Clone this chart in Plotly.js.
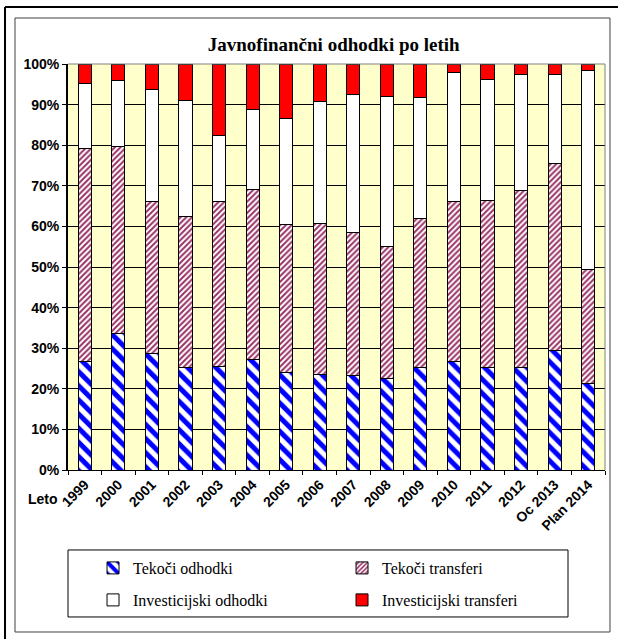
<!DOCTYPE html>
<html>
<head>
<meta charset="utf-8">
<script src="https://cdn.plot.ly/plotly-3.0.1.min.js"></script>
<style>
  html, body { margin: 0; padding: 0; background: #ffffff; }
  #chart { width: 618px; height: 639px; }
</style>
</head>
<body>
<div id="chart"></div>
<script>
// ---- data (shares in %) ----
const categories = ['1999','2000','2001','2002','2003','2004','2005','2006','2007','2008','2009','2010','2011','2012','Oc 2013','Plan 2014'];
const tekociOdhodki      = [26.7, 33.7, 28.7, 25.2, 25.6, 27.1, 24.0, 23.6, 23.2, 22.6, 25.2, 26.7, 25.2, 25.2, 29.4, 21.3];
const tekociTransferi    = [52.5, 46.1, 37.4, 37.2, 40.5, 42.0, 36.5, 37.2, 35.3, 32.4, 36.8, 39.4, 41.3, 43.6, 46.0, 28.0];
const investicijskiOdh   = [16.0, 16.2, 27.5, 28.6, 16.4, 19.6, 26.1, 29.9, 34.1, 37.1, 29.8, 31.9, 29.6, 28.5, 21.9, 49.1];
const investicijskiTr    = [ 4.8,  4.0,  6.4,  9.0, 17.5, 11.3, 13.4,  9.3,  7.4,  7.9,  8.2,  2.0,  3.9,  2.7,  2.7,  1.6];
const seriesNames = ['Tekoči odhodki', 'Tekoči transferi', 'Investicijski odhodki', 'Investicijski transferi'];
const yTickVals = [0,10,20,30,40,50,60,70,80,90,100];
const yTickText = ['0%','10%','20%','30%','40%','50%','60%','70%','80%','90%','100%'];

const line = { color: '#000000', width: 1 };

const traces = [
  { name: seriesNames[0], y: tekociOdhodki, legend: 'legend',
    marker: { color: '#FFFFFF', line: line,
      pattern: { shape: '\\', fgcolor: '#0000FF', bgcolor: '#FFFFFF', size: 10, solidity: 0.5, fillmode: 'replace' } } },
  { name: seriesNames[1], y: tekociTransferi, legend: 'legend',
    marker: { color: '#FFFFFF', line: line,
      pattern: { shape: '/', fgcolor: '#993366', bgcolor: '#FFFFFF', size: 4, solidity: 0.5, fillmode: 'replace' } } },
  { name: seriesNames[2], y: investicijskiOdh, legend: 'legend2',
    marker: { color: '#FFFFFF', line: line } },
  { name: seriesNames[3], y: investicijskiTr, legend: 'legend2',
    marker: { color: '#FF0000', line: line } }
].map(t => Object.assign({ type: 'bar', x: categories, hoverinfo: 'skip' }, t));

const sans = 'Liberation Sans, Arial, sans-serif';
const serif = 'Liberation Serif, Times New Roman, serif';

const legendCommon = {
  orientation: 'h', traceorder: 'normal',
  xanchor: 'left', yanchor: 'middle',
  entrywidth: 204,
  font: { family: serif, size: 16, color: '#000000' },
  bgcolor: 'rgba(0,0,0,0)', borderwidth: 0
};

// plot area: x 68..605, y 64..470 (px)
const layout = {
  width: 618, height: 639,
  margin: { l: 68, r: 13, t: 64, b: 169 },
  paper_bgcolor: '#FFFFFF',
  plot_bgcolor: '#FFFFCC',
  barmode: 'stack',
  bargap: 0.61,
  showlegend: true,
  title: { text: 'Javnofinančni odhodki po letih', x: 0.54, xanchor: 'center', y: 0.931, yanchor: 'middle',
           font: { family: serif, size: 19, color: '#000000', weight: 'bold' } },
  xaxis: {
    type: 'category', tickangle: -45,
    tickfont: { family: sans, size: 14, color: '#000000', weight: 'bold' },
    showline: true, linecolor: '#000000', linewidth: 1,
    ticks: 'outside', tickson: 'boundaries', ticklen: 4, tickcolor: '#000000',
    showgrid: false, zeroline: false, fixedrange: true
  },
  yaxis: {
    range: [0, 100], tickvals: yTickVals, ticktext: yTickText,
    tickfont: { family: sans, size: 14, color: '#000000', weight: 'bold' },
    showline: true, linecolor: '#000000', linewidth: 2,
    ticks: 'outside', ticklen: 4, tickcolor: '#000000',
    showgrid: true, gridcolor: '#000000', gridwidth: 1, zeroline: false, fixedrange: true
  },
  legend: Object.assign({ x: 0.0466, y: -0.2414 }, legendCommon),
  legend2: Object.assign({ x: 0.0466, y: -0.3202 }, legendCommon),
  annotations: [
    { text: 'Leto', xref: 'paper', yref: 'paper', x: -0.0466, y: -0.0714, xanchor: 'center', yanchor: 'middle',
      showarrow: false, font: { family: sans, size: 14, color: '#000000', weight: 'bold' } }
  ],
  shapes: [
    // plot border top/right (gray)
    { type: 'line', xref: 'paper', yref: 'paper', x0: 0, x1: 1, y0: 1, y1: 1, line: { color: '#808080', width: 1 } },
    { type: 'line', xref: 'paper', yref: 'paper', x0: 1, x1: 1, y0: 0, y1: 1, line: { color: '#808080', width: 1 } },
    // chart frame
    { type: 'rect', xref: 'paper', yref: 'paper', x0: -0.0987, x1: 1.0093, y0: 1.1133, y1: -0.399,
      line: { color: '#404040', width: 1 }, fillcolor: 'rgba(0,0,0,0)' },
    // page frame (top & left)
    { type: 'line', xref: 'paper', yref: 'paper', x0: -0.1173, x1: 1.03, y0: 1.1404, y1: 1.1404, line: { color: '#000000', width: 2 } },
    { type: 'line', xref: 'paper', yref: 'paper', x0: -0.1173, x1: -0.1173, y0: 1.1404, y1: -0.42, line: { color: '#000000', width: 2 } },
    // legend box
    { type: 'rect', xref: 'paper', yref: 'paper', x0: 0, x1: 0.9311, y0: -0.197, y1: -0.362,
      line: { color: '#000000', width: 1 }, fillcolor: 'rgba(0,0,0,0)' }
  ]
};

Plotly.newPlot('chart', traces, layout, { displayModeBar: false, staticPlot: true });
</script>
</body>
</html>
